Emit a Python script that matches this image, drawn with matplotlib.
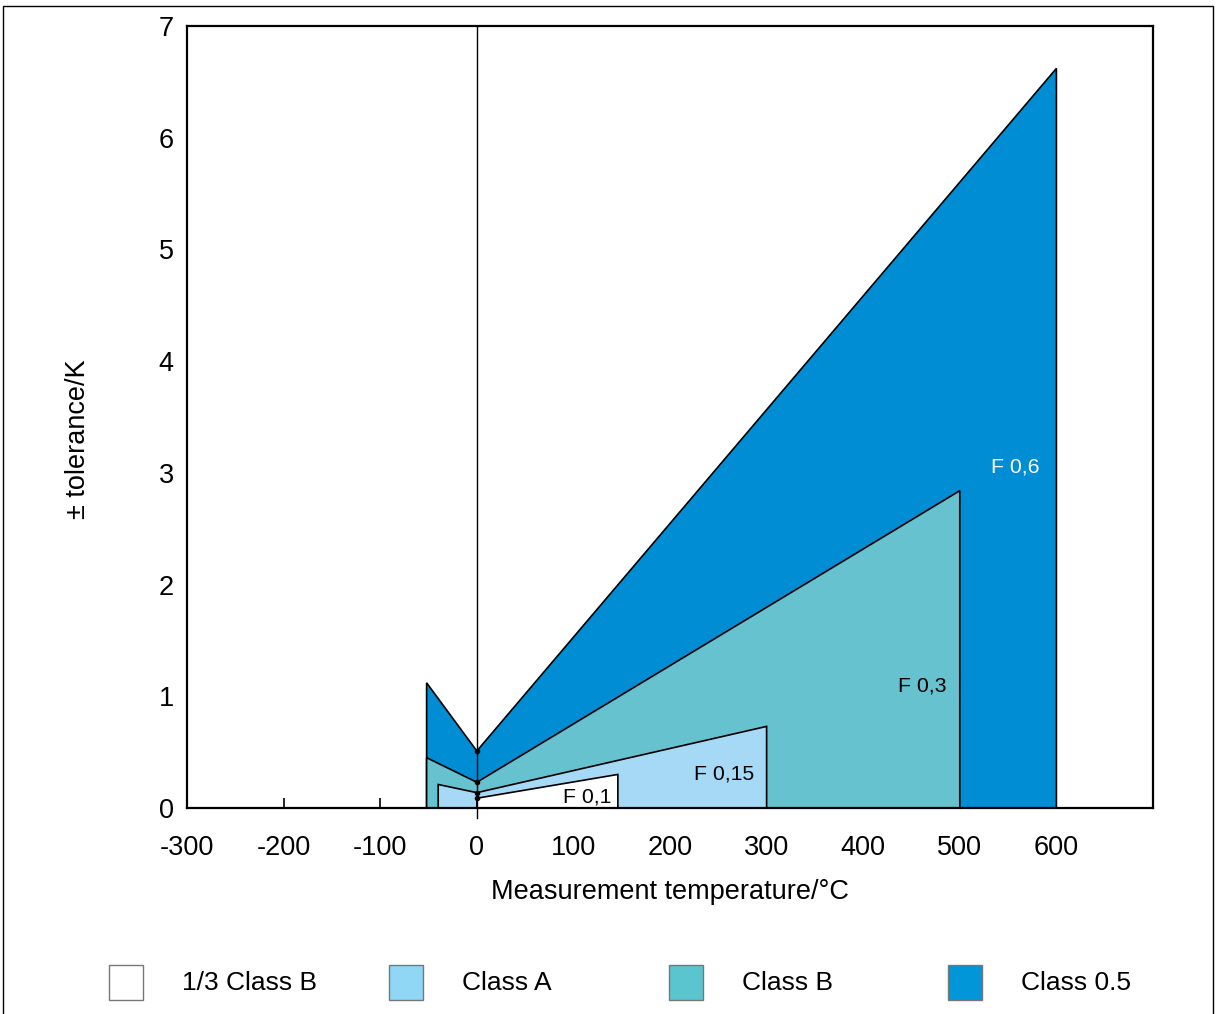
import matplotlib
matplotlib.use('Agg')
import matplotlib.pyplot as plt
from matplotlib.patches import Polygon, Rectangle

plt.rcParams.update({
    'font.family': ['Liberation Sans', 'DejaVu Sans'],
    'font.size': 19.5,
})

# ── Data: tolerance bands (x = °C, y = ± K) ─────────────────────────────────
classes = ['1/3 Class B', 'Class A', 'Class B', 'Class 0.5']
t_lo    = [0,     -40,   -52,   -52]     # left edge of range
t_hi    = [146,   300,   500,   600]     # right edge of range
tol_lo  = [None,  0.21,  0.45,  1.12]    # tolerance at t_lo
tol_0   = [0.087, 0.137, 0.23,  0.51]    # tolerance at 0 °C
tol_hi  = [0.30,  0.73,  2.84,  6.62]    # tolerance at t_hi

fill_cols   = ['#ffffff', '#a6d9f5', '#66c2cf', '#008dd3']
legend_cols = ['#ffffff', '#8fd7f5', '#5bc5cf', '#0096d8']

labels   = ['F 0,1', 'F 0,15', 'F 0,3', 'F 0,6']
label_x  = [139, 287, 486, 582]
label_y  = [0.10, 0.30, 1.09, 3.05]
label_c  = ['black', 'black', 'black', 'white']

xticks = [-300, -200, -100, 0, 100, 200, 300, 400, 500, 600]
yticks = [0, 1, 2, 3, 4, 5, 6, 7]

FS = 19.5

# ── Figure ──────────────────────────────────────────────────────────────────
fig = plt.figure(figsize=(12.21, 10.14), dpi=100)
ax = fig.add_axes([0.1532, 0.2032, 0.9443 - 0.1532, 0.9744 - 0.2032])

# draw largest band first so the smaller ones sit on top
for i in reversed(range(len(classes))):
    pts = [(t_lo[i], 0)]
    if tol_lo[i] is not None:
        pts.append((t_lo[i], tol_lo[i]))
    pts += [(0, tol_0[i]), (t_hi[i], tol_hi[i]), (t_hi[i], 0)]
    ax.add_patch(Polygon(pts, closed=True, facecolor=fill_cols[i],
                         edgecolor='black', lw=1.2, zorder=2 + (3 - i)))

# vertical reference at 0 °C
ax.plot([0, 0], [-0.09, 7], color='black', lw=1.0, zorder=7, clip_on=False)
ax.plot([0] * 4, tol_0, 'o', color='black', ms=3, zorder=8)

for s, x, y, c in zip(labels, label_x, label_y, label_c):
    ax.text(x, y, s, color=c, fontsize=15.3, ha='right', va='center', zorder=9)

ax.set_xlim(-300, 700)
ax.set_ylim(0, 7)
ax.set_xticks(xticks)
ax.set_yticks(yticks)
ax.set_xticklabels([str(v) for v in xticks])
ax.tick_params(axis='x', direction='in', length=7, width=1.2, pad=19.5,
               labelsize=FS)
ax.tick_params(axis='y', length=0, pad=9.5, labelsize=FS)
for sp in ax.spines.values():
    sp.set_linewidth(1.6)
    sp.set_zorder(10)

ax.set_xlabel('Measurement temperature/°C', fontsize=FS, va='center')
ax.xaxis.set_label_coords(0.5, -0.1075)
ax.set_ylabel('± tolerance/K', fontsize=FS, va='center')
ax.yaxis.set_label_coords(-0.1134, 0.4712)

# ── Legend row ──────────────────────────────────────────────────────────────
W, H = 1221, 1014
sq_x = [109, 389, 669, 948]
for x, c, name in zip(sq_x, legend_cols, classes):
    fig.add_artist(Rectangle((x / W, 1 - 1000 / H), 34 / W, 35 / H,
                             transform=fig.transFigure, facecolor=c,
                             edgecolor='#777777', lw=1.0))
    fig.text((x + 73) / W, 1 - 983 / H, name, fontsize=19,
             ha='left', va='center')

# outer frame
fig.add_artist(Rectangle((3 / W, -0.01), 1210 / W, 1 - 6 / H + 0.01,
                         transform=fig.transFigure, facecolor='none',
                         edgecolor='black', lw=1.0))

fig.savefig('out.png', dpi=100)
